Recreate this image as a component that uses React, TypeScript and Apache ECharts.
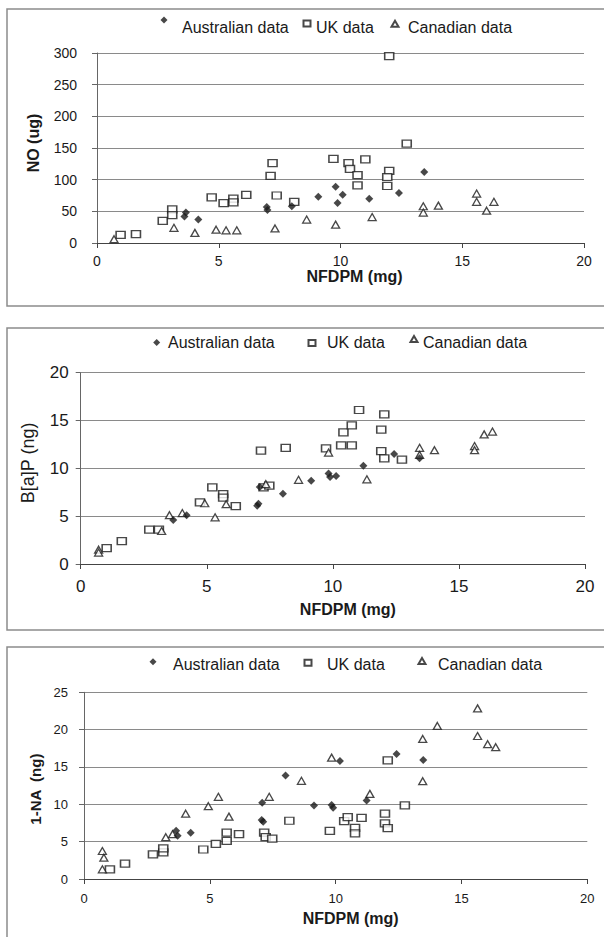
import React, { useEffect, useRef } from "react";
import * as echarts from "echarts";

// ---------- Data (x = NFDPM mg, y = yield) ----------
// Panel 1: NO (ug)
const noAustralian: [number, number][] = [
  [3.65, 48], [3.59, 42], [4.16, 37], [6.97, 57], [7.0, 52], [8.0, 58],
  [9.09, 73], [9.8, 89], [9.88, 63], [10.09, 76], [11.18, 70], [12.4, 79], [13.44, 112],
];
const noUK: [number, number][] = [
  [0.97, 13], [1.6, 14], [2.7, 35], [3.09, 53], [3.09, 44], [4.71, 72], [5.2, 63],
  [5.6, 70], [5.6, 64], [6.13, 76], [7.13, 106], [7.21, 126], [7.38, 75], [8.1, 65],
  [9.71, 133], [10.33, 126], [10.39, 117], [10.7, 107], [10.7, 91], [11.02, 132],
  [12.0, 295], [12.0, 114], [11.92, 104], [11.92, 90], [12.72, 157],
];
const noCanadian: [number, number][] = [
  [0.7, 6], [3.16, 24], [4.02, 16], [4.89, 21], [5.3, 20], [5.74, 20], [7.31, 23],
  [8.61, 37], [9.8, 29], [11.3, 41], [13.4, 58], [13.4, 48], [14.02, 59],
  [15.59, 78], [15.59, 65], [16.0, 51], [16.3, 65],
];

// Panel 2: B[a]P (ng)
const bapAustralian: [number, number][] = [
  [3.67, 4.6], [4.2, 5.1], [7.0, 6.1], [7.05, 6.3], [7.1, 8.05], [8.02, 7.35],
  [9.14, 8.7], [9.83, 9.45], [9.89, 9.1], [10.13, 9.2], [11.21, 10.27], [12.43, 11.5], [13.44, 11.05],
];
const bapUK: [number, number][] = [
  [1.03, 1.67], [1.63, 2.4], [2.72, 3.6], [3.1, 3.6], [4.73, 6.45], [5.22, 8.0],
  [5.65, 7.3], [5.65, 6.95], [6.15, 6.05], [7.15, 11.85], [7.25, 8.0], [7.48, 8.2],
  [8.13, 12.15], [9.73, 12.1], [10.33, 12.4], [10.42, 13.75], [10.75, 14.5], [10.75, 12.4],
  [11.04, 16.1], [11.92, 14.05], [12.04, 15.65], [11.92, 11.8], [12.04, 11.05], [12.74, 10.9],
];
const bapCanadian: [number, number][] = [
  [0.71, 1.5], [0.71, 1.2], [3.21, 3.45], [3.52, 5.1], [4.03, 5.33], [4.92, 6.35],
  [5.33, 4.88], [5.77, 6.25], [7.34, 8.35], [8.64, 8.8], [9.83, 11.65], [11.35, 8.85],
  [13.44, 12.15], [13.44, 11.4], [14.03, 11.9], [15.62, 12.33], [15.62, 11.9], [16.0, 13.55], [16.33, 13.85],
];

// Panel 3: 1-NA (ng)
const naAustralian: [number, number][] = [
  [3.66, 6.45], [3.72, 5.8], [4.24, 6.2], [7.08, 10.2], [7.06, 7.9], [7.12, 7.65],
  [8.01, 13.85], [9.14, 9.85], [9.84, 9.9], [9.9, 9.55], [10.17, 15.8], [11.23, 10.5],
  [12.42, 16.75], [13.48, 15.95],
];
const naUK: [number, number][] = [
  [1.03, 1.3], [1.63, 2.05], [2.74, 3.3], [3.15, 3.55], [3.15, 4.1], [4.74, 3.95],
  [5.24, 4.7], [5.67, 5.1], [5.67, 6.2], [6.16, 6.0], [7.16, 6.2], [7.22, 5.6],
  [7.48, 5.4], [8.16, 7.8], [9.77, 6.45], [10.34, 7.75], [10.48, 8.3], [10.77, 6.85],
  [10.77, 6.1], [11.03, 8.2], [11.96, 8.75], [11.96, 7.45], [12.07, 6.8], [12.07, 15.9], [12.75, 9.85],
];
const naCanadian: [number, number][] = [
  [0.73, 3.75], [0.79, 2.85], [0.73, 1.3], [3.25, 5.6], [3.52, 6.0], [4.04, 8.75],
  [4.94, 9.75], [5.34, 11.0], [5.76, 8.35], [7.36, 11.0], [8.64, 13.15], [9.84, 16.25],
  [11.36, 11.4], [13.46, 18.75], [13.46, 13.1], [14.04, 20.5], [15.64, 22.85],
  [15.64, 19.15], [16.04, 18.05], [16.36, 17.65],
];

const seriesNames = ["Australian data", "UK data", "Canadian data"];
const xTitle = "NFDPM (mg)";
const yTitles = ["NO (ug)", "B[a]P (ng)", "1-NA  (ng)"];
const xRange = { min: 0, max: 20, interval: 5 };
const yRanges = [
  { min: 0, max: 300, interval: 50 },
  { min: 0, max: 20, interval: 5 },
  { min: 0, max: 25, interval: 5 },
];

const FONT = "'Liberation Sans', Arial, Helvetica, sans-serif";
const INK = "#1a1a1a";

export default function App() {
  const ref = useRef<HTMLDivElement>(null);

  useEffect(() => {
    if (!ref.current) return;
    const chart = echarts.init(ref.current, undefined, { renderer: "svg" });

    const grids = [
      { left: 97, right: 20, top: 53, height: 190 },
      { left: 80.7, right: 19, top: 372.7, height: 191.3 },
      { left: 84, right: 16.7, top: 692.3, height: 186.7 },
    ];

    const panelData = [
      [noAustralian, noUK, noCanadian],
      [bapAustralian, bapUK, bapCanadian],
      [naAustralian, naUK, naCanadian],
    ];

    const yLabelFont = [14, 17, 13];
    const yLabelMargin = [20, 12, 16];
    const xLabelFont = [14, 17, 13];
    const xLabelMargin = [11, 14, 13];
    const xNameGap = [21, 37, 31];
    const xNamePad = [28, 30, 30];
    const yNameFont = [16, 18, 15];
    const yNameWeight = ["bold", "normal", "bold"];
    const yNameGap = [56, 44, 39];
    const yNamePad = [
      [0, 0, 0, 10],
      [0, 0, 0, 11],
      [0, 7, 0, 0],
    ];

    const xAxes = grids.map((_, i) => ({
      type: "value",
      gridIndex: i,
      min: xRange.min,
      max: xRange.max,
      interval: xRange.interval,
      axisLine: { show: true, lineStyle: { color: "#444", width: 1 } },
      axisTick: { show: true, length: 5, lineStyle: { color: "#444" } },
      axisLabel: { fontSize: xLabelFont[i], margin: xLabelMargin[i], color: INK, fontFamily: FONT },
      splitLine: { show: false },
      name: xTitle,
      nameLocation: "middle",
      nameGap: xNameGap[i],
      nameTextStyle: {
        fontSize: 16,
        fontWeight: "bold",
        color: INK,
        fontFamily: FONT,
        padding: [0, 0, 0, xNamePad[i]],
      },
    }));

    const yAxes = grids.map((_, i) => ({
      type: "value",
      gridIndex: i,
      min: yRanges[i].min,
      max: yRanges[i].max,
      interval: yRanges[i].interval,
      axisLine: { show: true, lineStyle: { color: "#666", width: 1 } },
      axisTick: { show: true, length: 5, lineStyle: { color: "#666" } },
      axisLabel: { fontSize: yLabelFont[i], margin: yLabelMargin[i], color: INK, fontFamily: FONT },
      splitLine: { show: true, lineStyle: { color: "#8a8a8a", width: 1 } },
      name: yTitles[i],
      nameLocation: "middle",
      nameGap: yNameGap[i],
      nameTextStyle: {
        fontSize: yNameFont[i],
        fontWeight: yNameWeight[i],
        color: INK,
        fontFamily: FONT,
        padding: yNamePad[i],
      },
    }));

    const styles = [
      { symbol: "diamond", symbolSize: [8, 8], itemStyle: { color: INK } },
      { symbol: "rect", symbolSize: [9, 7], itemStyle: { color: "#fff", borderColor: INK, borderWidth: 1.4 } },
      { symbol: "triangle", symbolSize: [8, 7], itemStyle: { color: "#fff", borderColor: INK, borderWidth: 1.3 } },
    ];

    const series: any[] = [];
    panelData.forEach((sets, i) => {
      [1, 2, 0].forEach((k) => {
        series.push({
          type: "scatter",
          name: seriesNames[k],
          xAxisIndex: i,
          yAxisIndex: i,
          data: sets[k],
          ...styles[k],
        });
      });
    });

    // legend placement per panel: [iconCenterX, iconCenterY, textStartX, textCenterY]
    const legendSpec = [
      [
        [164, 20, 182, 27.5],
        [306, 22.5, 315, 27],
        [394, 22.7, 407, 27],
      ],
      [
        [156.7, 342.5, 168, 342.5],
        [311, 342, 326, 342],
        [413, 338, 422, 342],
      ],
      [
        [153, 661.7, 173, 664.5],
        [307, 661.7, 326, 664.5],
        [421, 660, 437, 664.5],
      ],
    ];
    const iconSize = [
      [7, 7],
      [7, 6],
      [7, 6],
    ];
    const fs = 16;
    const legends: any[] = [];
    legendSpec.forEach((panel) => {
      panel.forEach(([cx, cy, ts, tc], k) => {
        // text part (no visible icon)
        legends.push({
          show: true,
          left: ts - 5,
          top: tc - fs / 2,
          padding: 0,
          itemWidth: 0,
          itemHeight: 0,
          selectedMode: false,
          data: [seriesNames[k]],
          textStyle: { fontSize: fs, lineHeight: fs, color: INK, fontFamily: FONT },
        });
        // icon part
        const [w, h] = iconSize[k];
        legends.push({
          show: true,
          left: cx - w / 2,
          top: cy - h / 2,
          padding: 0,
          itemWidth: w,
          itemHeight: h,
          selectedMode: false,
          data: [seriesNames[k]],
          formatter: () => "",
          textStyle: { fontSize: 1, lineHeight: 1, padding: 0 },
        });
      });
    });

    const border = { fill: "none", stroke: "#8c8c8c", lineWidth: 1.5 };

    chart.setOption({
      animation: false,
      backgroundColor: "#ffffff",
      grid: grids,
      xAxis: xAxes,
      yAxis: yAxes,
      legend: legends,
      series,
      graphic: [
        { type: "rect", shape: { x: 7, y: 9, width: 700, height: 297 }, style: border, silent: true, z: -1 },
        { type: "rect", shape: { x: 7, y: 328, width: 700, height: 302 }, style: border, silent: true, z: -1 },
        { type: "rect", shape: { x: 7, y: 647, width: 700, height: 400 }, style: border, silent: true, z: -1 },
      ],
    });

    return () => chart.dispose();
  }, []);

  return (
    <div
      ref={ref}
      style={{ position: "absolute", left: 0, top: 0, width: 604, height: 937, background: "#fff" }}
    />
  );
}
